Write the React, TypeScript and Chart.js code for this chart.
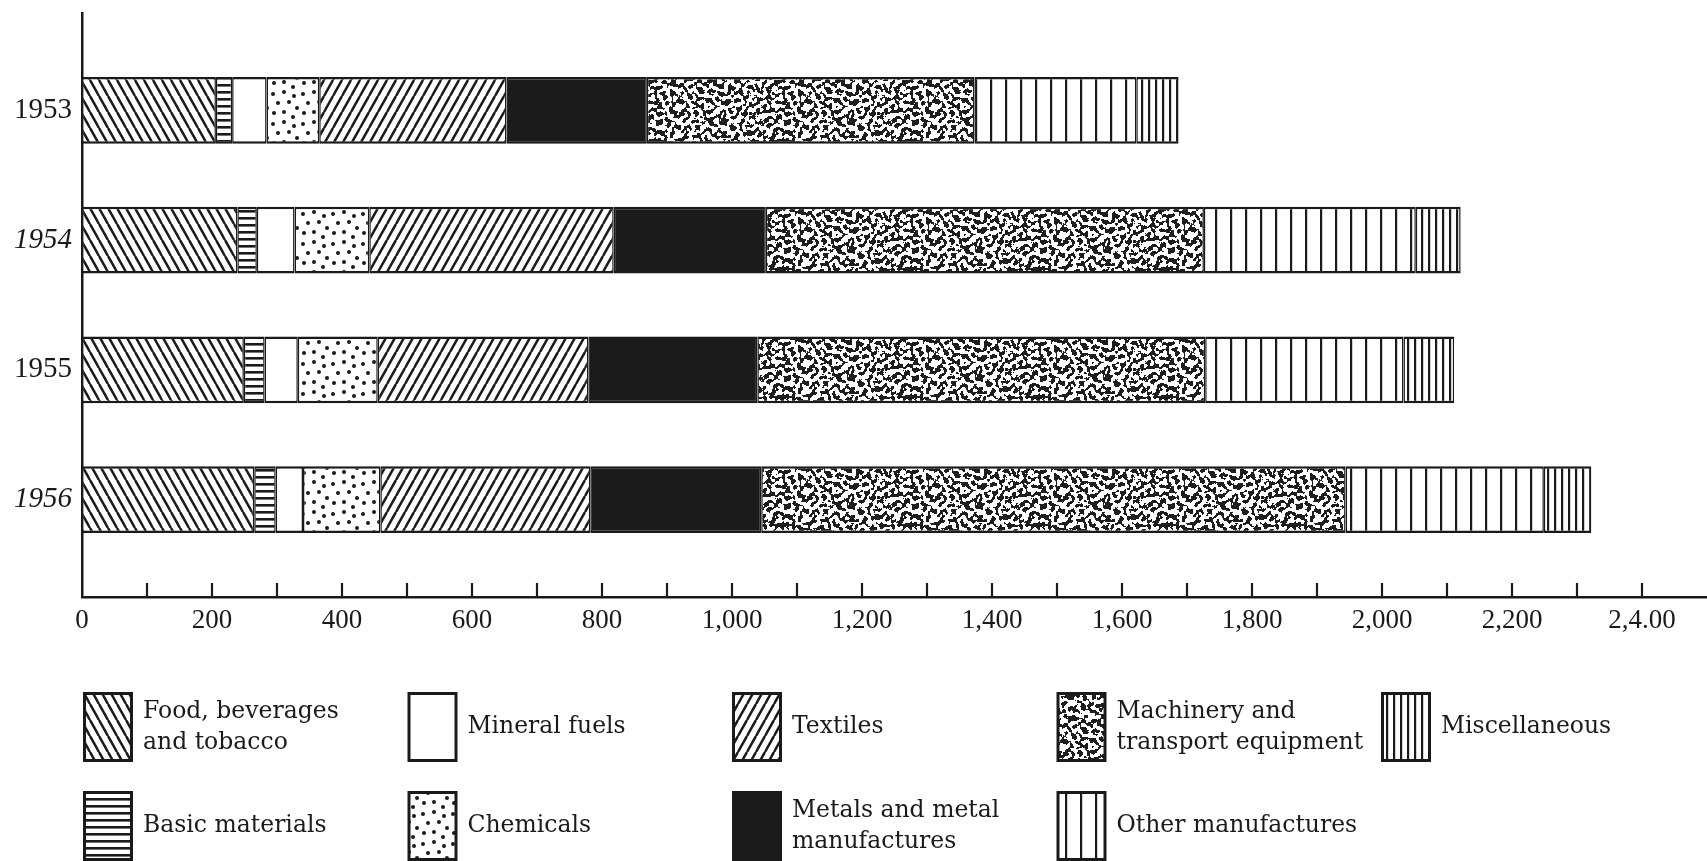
import React, { useEffect, useRef } from 'react';
import { Chart, registerables } from 'chart.js';

Chart.register(...registerables);

// ---------------- data ----------------
const years = ['1953', '1954', '1955', '1956'];
const food = [206, 239, 249, 265];
const basicMaterials = [25, 30, 32, 33];
const mineralFuels = [53, 58, 51, 42];
const chemicals = [81, 115, 123, 119];
const textiles = [288, 376, 324, 323];
const metals = [216, 234, 260, 263];
const machinery = [504, 674, 689, 899];
const otherManufactures = [249, 326, 305, 305];
const miscellaneous = [65, 69, 78, 73];

const xTickLabels = ['0', '200', '400', '600', '800', '1,000', '1,200', '1,400', '1,600', '1,800', '2,000', '2,200', '2,4.00'];

const seriesNames = [
  'Food, beverages and tobacco',
  'Basic materials',
  'Mineral fuels',
  'Chemicals',
  'Textiles',
  'Metals and metal manufactures',
  'Machinery and transport equipment',
  'Other manufactures',
  'Miscellaneous',
];
const legendLines = [
  ['Food, beverages', 'and tobacco'],
  ['Basic materials'],
  ['Mineral fuels'],
  ['Chemicals'],
  ['Textiles'],
  ['Metals and metal', 'manufactures'],
  ['Machinery and', 'transport equipment'],
  ['Other manufactures'],
  ['Miscellaneous'],
];
const seriesValues = [food, basicMaterials, mineralFuels, chemicals, textiles, metals, machinery, otherManufactures, miscellaneous];

const INK = '#1a1a1a';

// ---------------- patterns ----------------
function tile(w: number, h: number, draw: (g: CanvasRenderingContext2D, w: number, h: number) => void) {
  const c = document.createElement('canvas');
  c.width = w;
  c.height = h;
  const g = c.getContext('2d')!;
  g.fillStyle = '#ffffff';
  g.fillRect(0, 0, w, h);
  draw(g, w, h);
  return c;
}

function mulberry32(a: number) {
  return function () {
    a |= 0;
    a = (a + 0x6d2b79f5) | 0;
    let t = Math.imul(a ^ (a >>> 15), 1 | a);
    t = (t + Math.imul(t ^ (t >>> 7), 61 | t)) ^ t;
    return ((t ^ (t >>> 14)) >>> 0) / 4294967296;
  };
}

function boxBlur(src: Float32Array, n: number, rx: number, ry: number) {
  const tmp = new Float32Array(n * n);
  const out = new Float32Array(n * n);
  for (let y = 0; y < n; y++) {
    for (let x = 0; x < n; x++) {
      let s = 0;
      for (let d = -rx; d <= rx; d++) s += src[y * n + ((x + d + n) % n)];
      tmp[y * n + x] = s / (2 * rx + 1);
    }
  }
  for (let y = 0; y < n; y++) {
    for (let x = 0; x < n; x++) {
      let s = 0;
      for (let d = -ry; d <= ry; d++) s += tmp[((y + d + n) % n) * n + x];
      out[y * n + x] = s / (2 * ry + 1);
    }
  }
  return out;
}

function wormTile() {
  const n = 128;
  const rnd = mulberry32(1957);
  const base = new Float32Array(n * n);
  for (let i = 0; i < n * n; i++) base[i] = rnd();
  let a = base;
  for (let i = 0; i < 2; i++) a = boxBlur(a, n, 1, 1);
  let b = base;
  for (let i = 0; i < 3; i++) b = boxBlur(b, n, 2, 3);
  const d = new Float32Array(n * n);
  let sum = 0;
  let sq = 0;
  for (let i = 0; i < n * n; i++) {
    d[i] = a[i] - b[i];
    sum += d[i];
    sq += d[i] * d[i];
  }
  const mean = sum / (n * n);
  const sd = Math.sqrt(sq / (n * n) - mean * mean);
  return tile(n, n, (g) => {
    const img = g.getImageData(0, 0, n, n);
    for (let i = 0; i < n * n; i++) {
      const black = (d[i] - mean) / sd > 0.12;
      const v = black ? 30 : 255;
      img.data[i * 4] = v;
      img.data[i * 4 + 1] = v;
      img.data[i * 4 + 2] = v;
      img.data[i * 4 + 3] = 255;
    }
    g.putImageData(img, 0, 0);
  });
}

function makePatterns(ctx: CanvasRenderingContext2D): (CanvasPattern | string)[] {
  const diag = (dir: number) =>
    tile(9, 16, (g, w, h) => {
      g.strokeStyle = INK;
      g.lineWidth = 2.5;
      for (const o of [-w, 0, w]) {
        g.beginPath();
        if (dir > 0) {
          g.moveTo(o, 0);
          g.lineTo(o + w, h);
        } else {
          g.moveTo(o + w, 0);
          g.lineTo(o, h);
        }
        g.stroke();
      }
    });
  const horiz = tile(8, 7, (g, w) => {
    g.fillStyle = INK;
    g.fillRect(0, 0, w, 2.6);
  });
  const dots = tile(30, 30, (g) => {
    g.fillStyle = INK;
    const pts = [[3, 4], [14, 2], [24, 6], [8, 13], [19, 12], [27, 18], [4, 23], [14, 22], [23, 27]];
    for (const [x, y] of pts) {
      g.beginPath();
      g.arc(x, y, 2, 0, Math.PI * 2);
      g.fill();
    }
  });
  const vertWide = tile(15, 4, (g, w, h) => {
    g.fillStyle = INK;
    g.fillRect(0, 0, 2.2, h);
  });
  const vertNarrow = tile(7, 4, (g, w, h) => {
    g.fillStyle = INK;
    g.fillRect(0, 0, 2.2, h);
  });
  const p = (c: HTMLCanvasElement) => ctx.createPattern(c, 'repeat')!;
  return [
    p(diag(1)),
    p(horiz),
    '#ffffff',
    p(dots),
    p(diag(-1)),
    '#1b1b1b',
    p(wormTile()),
    p(vertWide),
    p(vertNarrow),
  ];
}

// ---------------- plugin: inward ticks + legend ----------------
const overlayPlugin = {
  id: 'overlay',
  afterDraw(chart: any) {
    const { ctx, chartArea } = chart;
    const x = chart.scales.x;
    ctx.save();
    ctx.strokeStyle = INK;
    ctx.lineWidth = 2.2;
    for (const t of x.ticks) {
      if (t.value <= 0 || t.value >= x.max) continue;
      const px = x.getPixelForValue(t.value);
      ctx.beginPath();
      ctx.moveTo(px, chartArea.bottom);
      ctx.lineTo(px, chartArea.bottom - 14);
      ctx.stroke();
    }

    ctx.font = '23.5px "DejaVu Serif"';
    ctx.textBaseline = 'middle';
    ctx.textAlign = 'left';
    chart.data.datasets.forEach((ds: any, i: number) => {
      const col = Math.floor(i / 2);
      const row = i % 2;
      const sx = 83 + col * 324.5;
      const sy = 692 + row * 99;
      ctx.fillStyle = INK;
      ctx.fillRect(sx, sy, 50, 70);
      ctx.fillStyle = ds.backgroundColor;
      ctx.fillRect(sx + 3, sy + 3, 44, 64);
      const lines = legendLines[i];
      const cy = sy + 35;
      const lh = 31;
      ctx.fillStyle = INK;
      lines.forEach((ln, j) => {
        ctx.fillText(ln, sx + 60, cy + (j - (lines.length - 1) / 2) * lh);
      });
    });
    ctx.restore();
  },
};

export default function App() {
  const ref = useRef<HTMLCanvasElement | null>(null);

  useEffect(() => {
    const canvas = ref.current!;
    const ctx = canvas.getContext('2d')!;
    const patterns = makePatterns(ctx);

    const datasets = seriesValues.map((vals, i) => ({
      label: seriesNames[i],
      data: vals.map((v, k) => ({ x: v, y: k + 1 })),
      backgroundColor: patterns[i],
      borderColor: INK,
      borderWidth: { top: 2.5, bottom: 2.5, left: 1.5, right: 1.5 },
      borderSkipped: false,
      barPercentage: 0.515,
      categoryPercentage: 1.0,
    }));

    const chart = new Chart(ctx, {
      type: 'bar',
      data: { datasets } as any,
      plugins: [overlayPlugin as any],
      options: {
        indexAxis: 'y',
        responsive: false,
        animation: false,
        devicePixelRatio: 1,
        layout: { padding: { top: 13, right: 0, left: 0, bottom: 0 } },
        plugins: {
          legend: { display: false },
          tooltip: { enabled: false },
        },
        scales: {
          x: {
            type: 'linear',
            stacked: true,
            min: 0,
            max: 2500,
            offset: false,
            grid: { display: false, drawTicks: false },
            border: { display: true, color: INK, width: 2.5 },
            afterFit: (scale: any) => {
              scale.height = 264;
              scale.paddingLeft = 0;
              scale.paddingRight = 0;
            },
            ticks: {
              stepSize: 100,
              autoSkip: false,
              maxRotation: 0,
              padding: 8,
              color: INK,
              font: { family: '"Liberation Serif"', size: 27 },
              callback: (v: any) => {
                const n = Number(v);
                return n % 200 === 0 ? xTickLabels[n / 200] ?? '' : '';
              },
            },
          },
          y: {
            type: 'linear',
            stacked: true,
            reverse: true,
            offset: false,
            min: 0.25,
            max: 4.75,
            grid: { display: false, drawTicks: false, offset: false },
            border: { display: true, color: INK, width: 2.5 },
            afterFit: (scale: any) => {
              scale.width = 82;
              scale.paddingTop = 0;
              scale.paddingBottom = 0;
            },
            afterBuildTicks: (scale: any) => {
              scale.ticks = years.map((_, i) => ({ value: i + 1 }));
            },
            ticks: {
              padding: 10,
              color: INK,
              font: (c: any) => ({
                family: '"Liberation Serif"',
                size: 29,
                style: c.index % 2 === 1 ? 'italic' : 'normal',
              }),
              callback: (v: any) => years[Number(v) - 1] ?? '',
            },
          },
        },
      } as any,
    });
    return () => chart.destroy();
  }, []);

  return (
    <div style={{ position: 'fixed', left: 0, top: 0, width: 1707, height: 861, background: '#ffffff' }}>
      <canvas ref={ref} width={1707} height={861} style={{ display: 'block' }} />
    </div>
  );
}
